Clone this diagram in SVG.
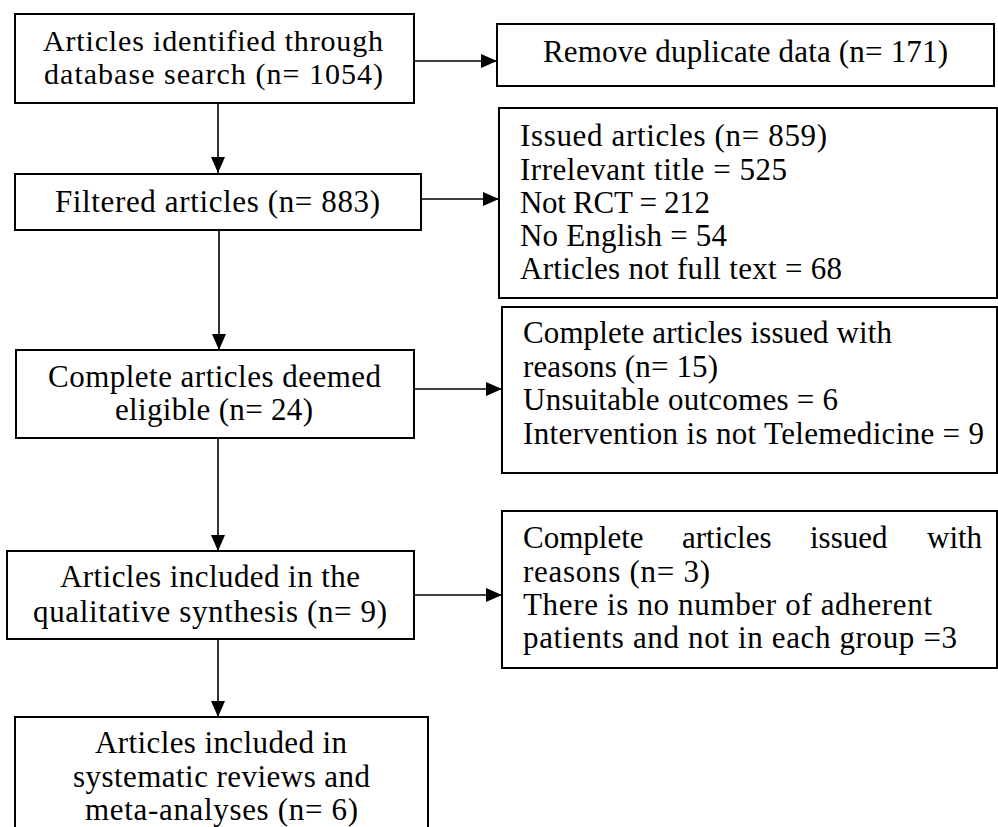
<svg xmlns="http://www.w3.org/2000/svg" width="998" height="827" viewBox="0 0 998 827">
<defs>
<marker id="ah" viewBox="0 0 16 14" refX="16" refY="7" markerWidth="16" markerHeight="14" markerUnits="userSpaceOnUse" orient="auto">
<path d="M0,0 L16,7 L0,14 Z" fill="#000"/>
</marker>
<style>
.box{fill:#fff;stroke:#000;stroke-width:2}
.t{font-family:"Liberation Serif","Times New Roman",serif;font-size:31px;fill:#000}
.s{font-size:30px}
.c{fill:none;stroke:#000;stroke-width:1.6;marker-end:url(#ah)}
</style>
</defs>
<rect width="998" height="827" fill="#fff"/>
<g id="connectors">
<path class="c" d="M218,103 V173"/>
<path class="c" d="M414,61 H497"/>
<path class="c" d="M421,199 H499"/>
<path class="c" d="M219,230 V350"/>
<path class="c" d="M414,389 H502"/>
<path class="c" d="M218,438 V551"/>
<path class="c" d="M414,595 H502"/>
<path class="c" d="M218,639 V717"/>
</g>
<g id="n1">
<rect class="box" x="15" y="14" width="399" height="89"/>
<text class="t s" x="43" y="51" textLength="340" lengthAdjust="spacing">Articles identified through</text>
<text class="t s" x="44" y="84" textLength="339" lengthAdjust="spacing">database search (n= 1054)</text>
</g>
<g id="n2">
<rect class="box" x="497" y="24" width="497" height="62"/>
<text class="t" x="543" y="62" textLength="405" lengthAdjust="spacing">Remove duplicate data (n= 171)</text>
</g>
<g id="n3">
<rect class="box" x="15" y="174" width="406" height="56"/>
<text class="t" x="55" y="212" textLength="325" lengthAdjust="spacing">Filtered articles (n= 883)</text>
</g>
<g id="n4">
<rect class="box" x="499" y="108" width="498" height="190"/>
<text class="t" x="520" y="146" textLength="307" lengthAdjust="spacing">Issued articles (n= 859)</text>
<text class="t" x="520" y="180" textLength="267" lengthAdjust="spacing">Irrelevant title = 525</text>
<text class="t" x="520" y="213" textLength="190" lengthAdjust="spacing">Not RCT = 212</text>
<text class="t" x="520" y="246" textLength="207" lengthAdjust="spacing">No English = 54</text>
<text class="t" x="520" y="279" textLength="322" lengthAdjust="spacing">Articles not full text = 68</text>
</g>
<g id="n5">
<rect class="box" x="16" y="350" width="398" height="88"/>
<text class="t" x="48" y="387" textLength="333" lengthAdjust="spacing">Complete articles deemed</text>
<text class="t" x="115" y="420" textLength="198" lengthAdjust="spacing">eligible (n= 24)</text>
</g>
<g id="n6">
<rect class="box" x="502" y="307" width="495" height="166"/>
<text class="t" x="523" y="343" textLength="369" lengthAdjust="spacing">Complete articles issued with</text>
<text class="t" x="523" y="377" textLength="195" lengthAdjust="spacing">reasons (n= 15)</text>
<text class="t" x="523" y="410" textLength="315" lengthAdjust="spacing">Unsuitable outcomes = 6</text>
<text class="t" x="523" y="444" textLength="461" lengthAdjust="spacing">Intervention is not Telemedicine = 9</text>
</g>
<g id="n7">
<rect class="box" x="7" y="551" width="407" height="88"/>
<text class="t" x="60" y="587" textLength="300" lengthAdjust="spacing">Articles included in the</text>
<text class="t" x="33" y="622" textLength="354" lengthAdjust="spacing">qualitative synthesis (n= 9)</text>
</g>
<g id="n8">
<rect class="box" x="502" y="511" width="495" height="157"/>
<text class="t" y="548"><tspan x="523">Complete</tspan><tspan x="682">articles</tspan><tspan x="810">issued</tspan><tspan x="927">with</tspan></text>
<text class="t" x="523" y="582" textLength="187" lengthAdjust="spacing">reasons (n= 3)</text>
<text class="t" x="523" y="615" textLength="409" lengthAdjust="spacing">There is no number of adherent</text>
<text class="t" x="523" y="648" textLength="434" lengthAdjust="spacing">patients and not in each group =3</text>
</g>
<g id="n9">
<rect class="box" x="15" y="717" width="413" height="130"/>
<text class="t" x="95" y="753" textLength="252" lengthAdjust="spacing">Articles included in</text>
<text class="t" x="73" y="787" textLength="297" lengthAdjust="spacing">systematic reviews and</text>
<text class="t" x="85" y="820" textLength="273" lengthAdjust="spacing">meta-analyses (n= 6)</text>
</g>
</svg>
